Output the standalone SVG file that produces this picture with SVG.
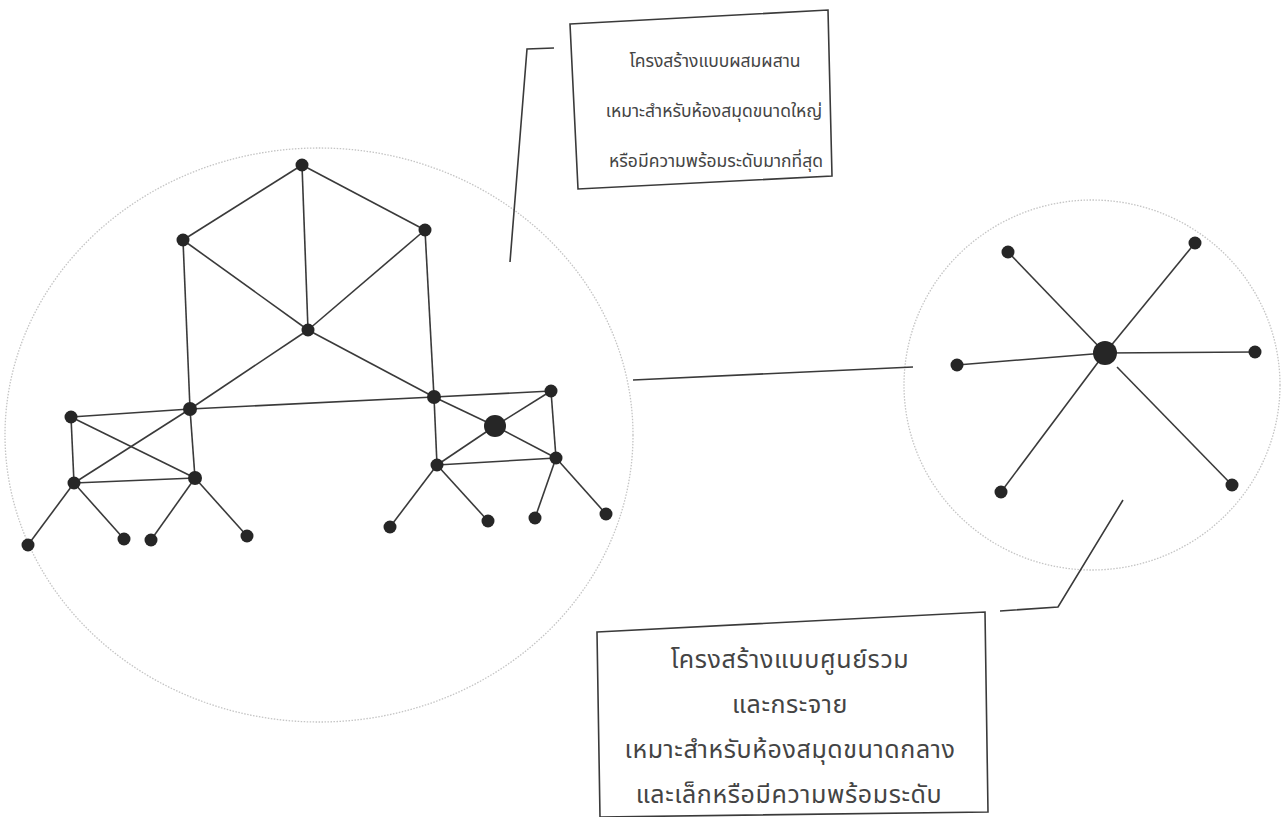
<svg xmlns="http://www.w3.org/2000/svg" width="1286" height="817" viewBox="0 0 1286 817">
<style>
.bg{fill:#ffffff}
.ring{fill:none;stroke:#c4c4c4;stroke-width:1.3;stroke-dasharray:1.5 1.5}
.e{stroke:#3a3a3a;stroke-width:1.6;fill:none}
.n{fill:#262626}
.box{fill:#ffffff;stroke:#3a3a3a;stroke-width:1.6}
.t{font-family:"Noto Sans Thai","Noto Sans","DejaVu Sans",sans-serif;fill:#444444;text-anchor:middle}
.ts{font-size:17.5px}
.tl{font-size:25px;letter-spacing:0.6px}
</style>
<rect class="bg" x="0" y="0" width="1286" height="817"/>
<ellipse class="ring" cx="319" cy="435" rx="314" ry="287"/>
<ellipse class="ring" cx="1092" cy="385" rx="188" ry="185"/>
<g id="connectors">
<line class="e" x1="302" y1="165" x2="183" y2="240"/>
<line class="e" x1="302" y1="165" x2="425" y2="230"/>
<line class="e" x1="302" y1="165" x2="308" y2="330"/>
<line class="e" x1="183" y1="240" x2="308" y2="330"/>
<line class="e" x1="425" y1="230" x2="308" y2="330"/>
<line class="e" x1="183" y1="240" x2="190" y2="409"/>
<line class="e" x1="425" y1="230" x2="434" y2="397"/>
<line class="e" x1="308" y1="330" x2="190" y2="409"/>
<line class="e" x1="308" y1="330" x2="434" y2="397"/>
<line class="e" x1="190" y1="409" x2="434" y2="397"/>
<line class="e" x1="71" y1="417" x2="190" y2="409"/>
<line class="e" x1="71" y1="417" x2="74" y2="483"/>
<line class="e" x1="71" y1="417" x2="195" y2="478"/>
<line class="e" x1="74" y1="483" x2="190" y2="409"/>
<line class="e" x1="190" y1="409" x2="195" y2="478"/>
<line class="e" x1="74" y1="483" x2="195" y2="478"/>
<line class="e" x1="434" y1="397" x2="551" y2="391"/>
<line class="e" x1="434" y1="397" x2="495" y2="426"/>
<line class="e" x1="551" y1="391" x2="495" y2="426"/>
<line class="e" x1="434" y1="397" x2="437" y2="465"/>
<line class="e" x1="551" y1="391" x2="556" y2="458"/>
<line class="e" x1="495" y1="426" x2="437" y2="465"/>
<line class="e" x1="495" y1="426" x2="556" y2="458"/>
<line class="e" x1="437" y1="465" x2="556" y2="458"/>
<line class="e" x1="74" y1="483" x2="28" y2="545"/>
<line class="e" x1="74" y1="483" x2="124" y2="539"/>
<line class="e" x1="195" y1="478" x2="151" y2="540"/>
<line class="e" x1="195" y1="478" x2="247" y2="536"/>
<line class="e" x1="437" y1="465" x2="390" y2="527"/>
<line class="e" x1="437" y1="465" x2="488" y2="521"/>
<line class="e" x1="556" y1="458" x2="535" y2="518"/>
<line class="e" x1="556" y1="458" x2="606" y2="514"/>
<line class="e" x1="1105" y1="353" x2="1008" y2="252"/>
<line class="e" x1="1105" y1="353" x2="1195" y2="243"/>
<line class="e" x1="1105" y1="353" x2="957" y2="365"/>
<line class="e" x1="1105" y1="353" x2="1255" y2="352"/>
<line class="e" x1="1105" y1="353" x2="1001" y2="492"/>
<line class="e" x1="1117" y1="367" x2="1232" y2="485"/>
<line class="e" x1="633" y1="380" x2="913" y2="367"/>
<polyline class="e" points="554,48 527,49 510,262"/>
<polyline class="e" points="1000,611 1058,607 1123,500"/>
</g>
<g id="mesh-nodes">
<circle class="n" cx="302" cy="165" r="6.5"/>
<circle class="n" cx="183" cy="240" r="6.5"/>
<circle class="n" cx="425" cy="230" r="6.5"/>
<circle class="n" cx="308" cy="330" r="6.5"/>
<circle class="n" cx="190" cy="409" r="7"/>
<circle class="n" cx="434" cy="397" r="7"/>
<circle class="n" cx="71" cy="417" r="6.5"/>
<circle class="n" cx="74" cy="483" r="6.5"/>
<circle class="n" cx="195" cy="478" r="7"/>
<circle class="n" cx="551" cy="391" r="6.5"/>
<circle class="n" cx="495" cy="426" r="11"/>
<circle class="n" cx="437" cy="465" r="6.5"/>
<circle class="n" cx="556" cy="458" r="6.5"/>
<circle class="n" cx="28" cy="545" r="6.5"/>
<circle class="n" cx="124" cy="539" r="6.5"/>
<circle class="n" cx="151" cy="540" r="6.5"/>
<circle class="n" cx="247" cy="536" r="6.5"/>
<circle class="n" cx="390" cy="527" r="6.5"/>
<circle class="n" cx="488" cy="521" r="6.5"/>
<circle class="n" cx="535" cy="518" r="6.5"/>
<circle class="n" cx="606" cy="514" r="6.5"/>
</g>
<g id="star-nodes">
<circle class="n" cx="1105" cy="353" r="12"/>
<circle class="n" cx="1008" cy="252" r="6.5"/>
<circle class="n" cx="1195" cy="243" r="6.5"/>
<circle class="n" cx="957" cy="365" r="6.5"/>
<circle class="n" cx="1255" cy="352" r="6.5"/>
<circle class="n" cx="1001" cy="492" r="6.5"/>
<circle class="n" cx="1232" cy="485" r="6.5"/>
</g>
<g id="label-hybrid">
<polygon class="box" points="570,24 828,10 832,176 578,189"/>
<text class="t ts" x="715" y="67">โครงสร้างแบบผสมผสาน</text>
<text class="t ts" x="714" y="117">เหมาะสำหรับห้องสมุดขนาดใหญ่</text>
<text class="t ts" x="716" y="167">หรือมีความพร้อมระดับมากที่สุด</text>
</g>
<g id="label-star">
<polygon class="box" points="597,632 985,612 988,812 600,817"/>
<text class="t tl" x="790" y="668">โครงสร้างแบบศูนย์รวม</text>
<text class="t tl" x="790" y="713">และกระจาย</text>
<text class="t tl" x="790" y="758">เหมาะสำหรับห้องสมุดขนาดกลาง</text>
<text class="t tl" x="789" y="803">และเล็กหรือมีความพร้อมระดับ</text>
</g>
</svg>
